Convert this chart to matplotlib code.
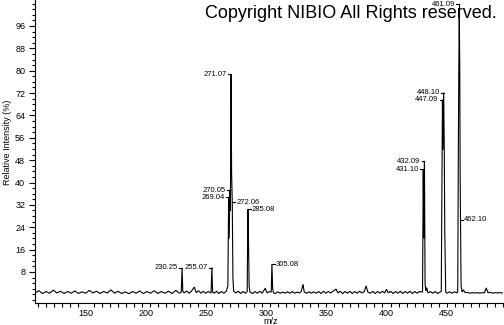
import matplotlib
matplotlib.use("Agg")
import matplotlib.pyplot as plt
from matplotlib.ticker import FixedLocator, MultipleLocator
import numpy as np

# ---------------- data ----------------
profile_mz = [
    108, 111, 114, 117, 120, 123, 126, 129, 132, 135, 138, 141, 144, 147, 150, 153, 156, 159,
    162, 165, 168, 171, 174, 177, 180, 183, 186, 189, 192, 195, 198, 201, 204, 207, 210, 213,
    216, 219, 222, 225, 228,
    229.6, 230.25, 230.9, 232, 234, 236, 238, 240.5, 242, 244, 246, 248, 250, 252, 254.4,
    255.07, 255.7, 257, 259, 261, 263, 265, 267, 268.4,
    269.04, 269.5, 270.05, 270.5, 271.07, 271.5, 272.06, 272.6, 273.2,
    275, 277, 279, 281, 283, 284.5, 285.08, 285.5, 286.1, 286.8,
    289, 291, 293, 295, 297, 299.5, 301, 303, 304.5, 305.08, 305.7, 306.4,
    308, 310, 312, 314, 316, 318, 320, 322, 324, 326, 328, 329.5, 331, 332, 334, 336, 338,
    340, 342, 344, 346, 348, 350, 352, 354, 356, 358.5, 360, 362, 364, 366, 368, 370, 372,
    374, 376, 378, 380, 382, 383.5, 385, 387, 389, 391, 393, 395, 397, 399, 400.5, 402, 404,
    406, 408, 410, 412, 414, 416, 418, 420, 422, 424, 426, 428, 430.5,
    431.10, 431.6, 432.09, 432.6, 433.2, 434, 435, 437, 439, 441, 443, 445, 446.1,
    446.6, 447.09, 447.5, 448.10, 448.6, 449.0, 449.8,
    451, 453, 455, 457, 459.2, 459.8,
    460.3, 460.7, 461.09, 461.5, 461.8, 462.10, 462.6, 463.5, 464.5,
    466, 468, 470, 472, 474, 476, 478, 480, 482, 483.5, 485, 487, 489, 491, 493, 495, 497,
]
profile_int = [
    0.5, 1.3, 0.3, 1.0, 0.4, 1.5, 0.5, 1.1, 0.3, 1.0, 0.4, 1.2, 0.3, 0.9, 0.4, 1.4, 0.5, 1.1,
    0.3, 1.0, 0.5, 1.6, 0.4, 1.1, 0.3, 0.9, 0.2, 1.0, 0.4, 1.2, 0.3, 1.0, 0.4, 1.3, 0.3, 1.0,
    0.4, 1.1, 0.3, 1.4, 0.4,
    0.8, 9.4, 1.0, 0.5, 1.2, 0.4, 1.1, 2.6, 0.6, 1.3, 0.4, 1.1, 0.4, 1.0, 0.5,
    9.6, 0.8, 0.4, 1.1, 0.3, 1.0, 0.4, 1.1, 3.0,
    34.8, 20.0, 37.3, 30.0, 78.8, 43.5, 33.0, 6.0, 1.2,
    0.5, 1.1, 0.3, 1.0, 0.4, 1.0, 30.4, 21.2, 3.0, 0.8,
    0.3, 1.0, 0.4, 1.1, 0.4, 2.2, 0.5, 1.0, 0.8, 10.8, 2.0, 0.5,
    0.3, 0.9, 0.4, 0.8, 0.4, 0.9, 0.4, 1.0, 0.4, 0.8, 0.5, 1.0, 3.6, 0.8, 0.4, 0.9, 0.4,
    0.9, 0.4, 1.0, 0.3, 1.1, 0.4, 1.0, 0.5, 1.1, 1.9, 0.5, 1.1, 0.3, 1.0, 0.4, 1.1, 0.3,
    1.0, 0.4, 1.1, 0.5, 1.0, 3.0, 0.8, 0.4, 1.1, 0.3, 1.0, 0.4, 1.1, 0.5, 1.8, 0.5, 1.1,
    0.3, 1.0, 0.4, 1.1, 0.3, 1.0, 0.4, 1.1, 0.3, 1.0, 0.4, 1.0, 0.8,
    44.8, 20.0, 47.7, 4.0, 1.2, 2.4, 0.5, 1.0, 0.4, 1.0, 0.3, 0.8, 1.0,
    33.7, 69.6, 51.7, 72.2, 51.7, 23.0, 0.8,
    0.4, 0.9, 0.4, 0.9, 0.5, 1.0,
    51.0, 80.9, 100.0, 80.9, 42.7, 26.6, 3.0, 0.8, 1.6,
    0.6, 0.7, 0.4, 0.6, 0.5, 0.6, 0.4, 0.6, 0.5, 2.3, 0.6, 0.7, 0.4, 0.6, 0.5, 0.6, 0.5,
]

label_text = ["230.25", "255.07", "269.04", "270.05", "271.07", "272.06", "285.08", "305.08",
              "431.10", "432.09", "447.09", "448.10", "461.09", "462.10"]
label_mz = [230.25, 255.07, 269.04, 270.05, 271.07, 272.06, 285.08, 305.08,
            431.10, 432.09, 447.09, 448.10, 461.09, 462.10]
label_y = [9.6, 9.6, 34.8, 37.3, 78.8, 33.0, 30.4, 10.8,
           44.8, 47.7, 69.6, 72.2, 103.7, 26.6]
label_peak = [9.4, 9.6, 34.8, 37.3, 78.8, 33.0, 30.4, 10.8,
              44.8, 47.7, 69.6, 72.2, 100.0, 26.6]
label_side = ["L", "L", "L", "L", "L", "R", "R", "R", "L", "L", "L", "L", "L", "R"]

y_tick_values = [8, 16, 24, 32, 40, 48, 56, 64, 72, 80, 88, 96]
x_tick_values = [150, 200, 250, 300, 350, 400, 450]

# ---------------- figure ----------------
W, H = 504, 325
fig = plt.figure(figsize=(W / 100, H / 100), dpi=100)
ax = fig.add_axes([35 / W, 22 / H, (503 - 35) / W, 303 / H])

ax.plot(profile_mz, profile_int, color="black", lw=0.8, solid_joinstyle="miter")

ax.set_xlim(107.8, 497.5)
ax.set_ylim(-3.1, 105.3)

for s in ["top", "right"]:
    ax.spines[s].set_visible(False)
for s in ["left", "bottom"]:
    ax.spines[s].set_linewidth(0.8)
    ax.spines[s].set_color("black")

tick_font = ["Liberation Sans Narrow", "Liberation Sans", "DejaVu Sans"]

# y ticks
ax.yaxis.set_major_locator(FixedLocator(y_tick_values))
ax.set_yticklabels([str(v) for v in y_tick_values], fontsize=6.5, family=tick_font)
ax.yaxis.set_minor_locator(MultipleLocator(2))
ax.tick_params(axis="y", which="major", length=4, width=0.8, pad=3, direction="out")
ax.tick_params(axis="y", which="minor", length=2.5, width=0.8, direction="out")

# x ticks: labels without marks, marks on a finer regular grid
ax.xaxis.set_major_locator(FixedLocator(x_tick_values))
ax.set_xticklabels([str(v) for v in x_tick_values], fontsize=6.5, family=tick_font)
ax.tick_params(axis="x", which="major", length=0, pad=4)
ax.xaxis.set_minor_locator(MultipleLocator(6.68, offset=150 % 6.68))
ax.tick_params(axis="x", which="minor", length=3, width=0.8, direction="out")

fig.text(8 / W, 1 - 142 / H, "Relative Intensity (%)", rotation=90, ha="center", va="center",
         fontsize=6.5, family=tick_font)
fig.text(271 / W, 1 - 321 / H, "m/z", ha="center", va="center", fontsize=6.5, family=tick_font)

# peak annotations
hook = 2.4
for t, mz, y, pk, side in zip(label_text, label_mz, label_y, label_peak, label_side):
    if y > pk:
        ax.plot([mz, mz], [pk, y], color="black", lw=0.8)
    if side == "L":
        ax.plot([mz - hook, mz], [y, y], color="black", lw=0.8)
        ax.text(mz - hook - 0.8, y, t, ha="right", va="center", fontsize=5.5,
                family=["Liberation Sans", "DejaVu Sans"])
    else:
        ax.plot([mz, mz + hook], [y, y], color="black", lw=0.8)
        ax.text(mz + hook + 0.8, y, t, ha="left", va="center", fontsize=5.5,
                family=["Liberation Sans", "DejaVu Sans"])

fig.text(497 / W, 1 - 13 / H, "Copyright NIBIO All Rights reserved.", ha="right", va="center",
         fontsize=13, family=["Liberation Sans", "DejaVu Sans"])

fig.savefig("out.png", dpi=100)
